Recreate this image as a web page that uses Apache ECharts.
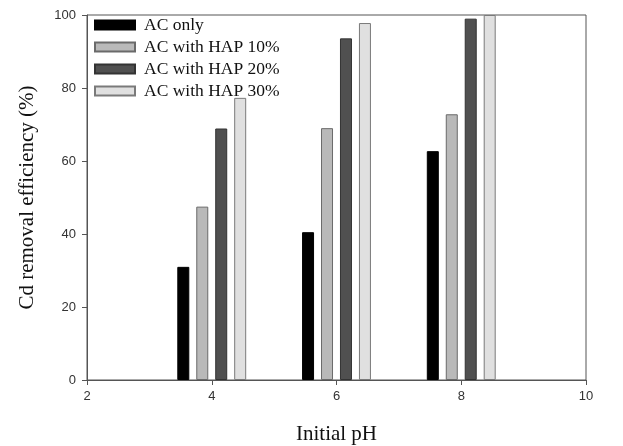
<!DOCTYPE html>
<html>
<head>
<meta charset="utf-8">
<script src="https://cdn.jsdelivr.net/npm/echarts@6/dist/echarts.min.js"></script>
<style>
  html, body { margin: 0; padding: 0; background: #fff; }
  #chart { width: 623px; height: 446px; }
</style>
</head>
<body>
<div id="chart"></div>
<script>
// pH values where the bar groups sit
var phValues = [4, 6, 8];
var seriesNames = ['AC only', 'AC with HAP 10%', 'AC with HAP 20%', 'AC with HAP 30%'];
var acOnly = [31, 40.5, 62.7];
var hap10 = [47.5, 69, 72.8];
var hap20 = [68.9, 93.6, 99];
var hap30 = [77.3, 97.8, 100];
var xTicks = [2, 4, 6, 8, 10];
var yTicks = [0, 20, 40, 60, 80, 100];

var fills = ['#000000', '#b9b9b9', '#505050', '#e0e0e0'];
var borders = ['#000000', '#6a6a6a', '#333333', '#7a7a7a'];
var allValues = [acOnly, hap10, hap20, hap30];

var serif = '"Liberation Serif", "Times New Roman", serif';
var sans = '"Liberation Sans", Arial, sans-serif';
var axisColor = '#555';

var series = [];
for (var i = 0; i < seriesNames.length; i++) {
  series.push({
    name: seriesNames[i],
    type: 'bar',
    barWidth: 12,
    barGap: '58%',
    itemStyle: { color: fills[i], borderColor: borders[i], borderWidth: 1 },
    data: phValues.map(function (p, k) { return [p, allValues[i][k]]; })
  });
}

var chart = echarts.init(document.getElementById('chart'), null, { renderer: 'canvas' });
chart.setOption({
  animation: false,
  backgroundColor: '#fff',
  grid: {
    left: 87, right: 37, top: 15, bottom: 66,
    containLabel: false,
    outerBoundsMode: 'none',
    show: true, borderColor: axisColor, borderWidth: 1
  },
  legend: {
    orient: 'vertical',
    left: 89, top: 11,
    icon: 'rect',
    itemWidth: 40, itemHeight: 9, itemGap: 4,
    textStyle: { fontFamily: serif, fontSize: 17.5, color: '#111', padding: [0, 0, 0, 4] },
    data: seriesNames
  },
  xAxis: {
    type: 'value',
    min: xTicks[0], max: xTicks[xTicks.length - 1], interval: 2,
    name: 'Initial pH',
    nameLocation: 'middle', nameGap: 44,
    nameTextStyle: { fontFamily: serif, fontSize: 21, color: '#111' },
    axisLine: { lineStyle: { color: axisColor } },
    axisTick: { show: true, length: 5, lineStyle: { color: axisColor } },
    axisLabel: { fontFamily: sans, fontSize: 13, color: '#333', margin: 10 },
    splitLine: { show: false }
  },
  yAxis: {
    type: 'value',
    min: yTicks[0], max: yTicks[yTicks.length - 1], interval: 20,
    name: 'Cd removal efficiency (%)',
    nameLocation: 'middle', nameGap: 49,
    nameTruncate: { maxWidth: 400 },
    nameTextStyle: { fontFamily: serif, fontSize: 21, color: '#111' },
    axisLine: { show: true, lineStyle: { color: axisColor } },
    axisTick: { show: true, length: 5, lineStyle: { color: axisColor } },
    axisLabel: { fontFamily: sans, fontSize: 13, color: '#333', margin: 11 },
    splitLine: { show: false }
  },
  series: series
});
</script>
</body>
</html>
